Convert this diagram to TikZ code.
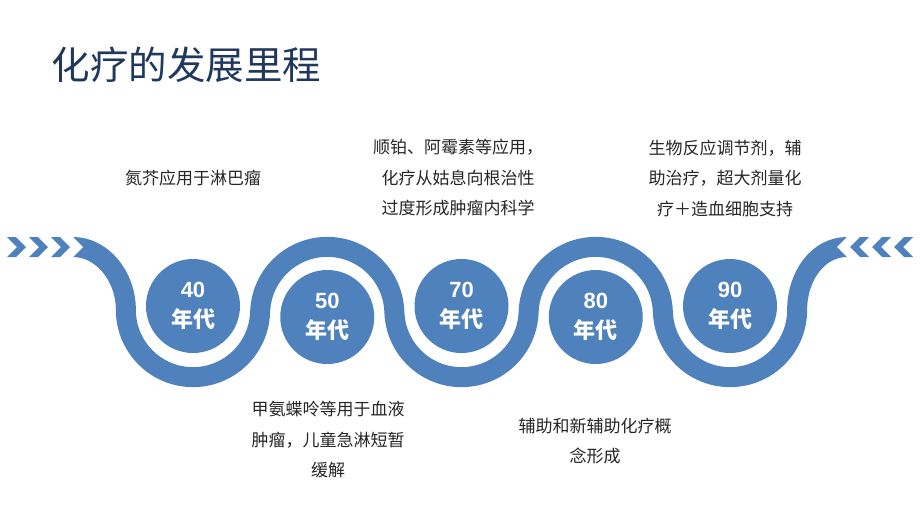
\documentclass[tikz,border=0pt]{standalone}
\usepackage{fontspec}
\setmainfont{Noto Sans CJK SC}
\newfontfamily\digits{Liberation Sans}
\usetikzlibrary{calc}
\definecolor{bandblue}{RGB}{79,129,189}
\definecolor{titlenavy}{RGB}{31,56,92}
\tikzset{
	era/.style={circle, fill=bandblue, minimum size=94pt, inner sep=0pt, text=white, align=center, font=\fontsize{22}{29}\selectfont\bfseries},
	note/.style={align=center, text=black!85, font=\fontsize{17}{30.5}\selectfont},
}

\begin{document}
\begin{tikzpicture}[x=1pt, y=-1pt]
		%%%%% START %%%%%
		\useasboundingbox (0, 0) rectangle (920, 517);
		
		\node[anchor=west, text=titlenavy, font=\fontsize{38.5}{40}\selectfont] (title) at (48, 65) {化疗的发展里程};
		
		% the wave
		\draw[bandblue, line width=20pt] (73, 247) .. controls (102, 247) and (125.875, 276) .. (125.875, 310)
			arc (180:0:67.125) -- ++(0, 4) arc (180:360:67.125) -- ++(0, -4)
			arc (180:0:67.125) -- ++(0, 4) arc (180:360:67.125) -- ++(0, -4)
			arc (180:0:67.125) .. controls (797.125, 276) and (818, 247) .. (847, 247);
		\fill[white] (72, 236) -- (83, 247) -- (72, 258) -- cycle;
		\fill[white] (848, 236) -- (837, 247) -- (848, 258) -- cycle;
		
		% chevrons
		\foreach \x in {7, 29, 51}
			\fill[bandblue] (\x, 237) -- ++(9, 0) -- ++(10, 10) -- ++(-10, 10) -- ++(-9, 0) -- ++(10, -10) -- cycle;
		\foreach \x in {913, 891, 869}
			\fill[bandblue] (\x, 237) -- ++(-9, 0) -- ++(-10, 10) -- ++(10, 10) -- ++(9, 0) -- ++(-10, -10) -- cycle;
		
		% decades
		\node[era] (d40) at (193, 306) {{\digits 40}\\[1pt]年代};
		\node[era] (d50) at (327.25, 317) {{\digits 50}\\[1pt]年代};
		\node[era] (d70) at (461.5, 306) {{\digits 70}\\[1pt]年代};
		\node[era] (d80) at (595.75, 317) {{\digits 80}\\[1pt]年代};
		\node[era] (d90) at (730, 306) {{\digits 90}\\[1pt]年代};
		
		% notes
		\node[note] (n40) at (193, 178) {氮芥应用于淋巴瘤};
		\node[note] (n70) at (458, 178) {顺铂、阿霉素等应用，\\化疗从姑息向根治性\\过度形成肿瘤内科学};
		\node[note] (n90) at (725, 178) {生物反应调节剂，辅\\助治疗，超大剂量化\\疗＋造血细胞支持};
		\node[note] (n50) at (328, 440) {甲氨蝶呤等用于血液\\肿瘤，儿童急淋短暂\\缓解};
		\node[note] (n80) at (595, 441) {辅助和新辅助化疗概\\念形成};
		
		%%%%% END %%%%%
\end{tikzpicture}
\end{document}
